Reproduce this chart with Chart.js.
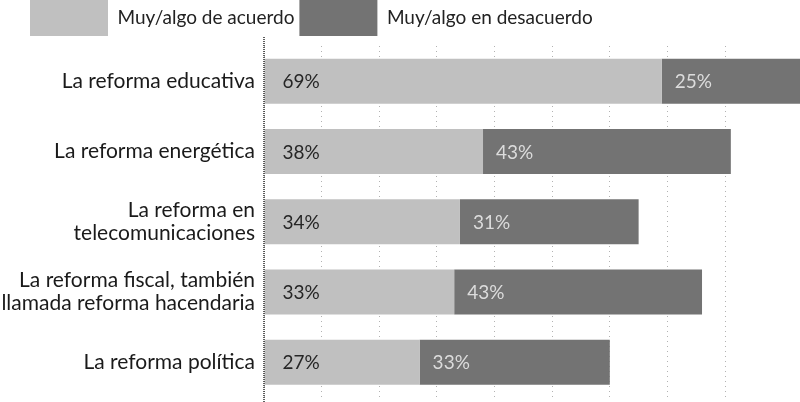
<!DOCTYPE html>
<html>
<head>
<meta charset="utf-8">
<script src="https://cdn.jsdelivr.net/npm/chart.js@4.4.1/dist/chart.umd.min.js"></script>
<style>
  html, body { margin: 0; padding: 0; background: #ffffff; overflow: hidden; }
  #wrap { position: absolute; left: 0; top: -5px; width: 800px; height: 423px; }
</style>
</head>
<body>
<div id="wrap"><canvas id="c" width="800" height="423"></canvas></div>
<script>
const categories = [
  "La reforma educativa",
  "La reforma energética",
  ["La reforma en", "telecomunicaciones"],
  ["La reforma fiscal, también", "llamada reforma hacendaria"],
  "La reforma política"
];
const seriesNames = ["Muy/algo de acuerdo", "Muy/algo en desacuerdo"];
const agree = [69, 38, 34, 33, 27];
const disagree = [25, 43, 31, 43, 33];

const lightColor = "#c0c0c0";
const darkColor = "#737373";

const barLabels = {
  id: "barLabels",
  afterDatasetsDraw(chart) {
    const ctx = chart.ctx;
    ctx.save();
    ctx.font = "19px Lato";
    ctx.textBaseline = "middle";
    ctx.textAlign = "left";
    chart.data.datasets.forEach((ds, di) => {
      const meta = chart.getDatasetMeta(di);
      ctx.fillStyle = di === 0 ? "#262626" : "#dcdcdc";
      meta.data.forEach((bar, i) => {
        const start = Math.min(bar.base, bar.x);
        ctx.fillText(ds.data[i] + "%", start + (di === 0 ? 18 : 13), bar.y + 1);
      });
    });
    ctx.restore();
  }
};

const axisLine = {
  id: "axisLine",
  afterDatasetsDraw(chart) {
    const ctx = chart.ctx;
    const a = chart.chartArea;
    const x = chart.scales.x.getPixelForValue(0);
    ctx.save();
    ctx.strokeStyle = "#2a2a2a";
    ctx.lineWidth = 1.5;
    ctx.setLineDash([1, 1]);
    ctx.beginPath();
    ctx.moveTo(x, a.top - 9);
    ctx.lineTo(x, a.bottom + 10);
    ctx.stroke();
    ctx.restore();
  }
};

const legendShift = {
  id: "legendShift",
  afterLayout(chart) {
    if (chart.legend) { chart.legend.left = 25; }
  }
};

new Chart(document.getElementById("c"), {
  type: "bar",
  data: {
    labels: categories,
    datasets: [
      { label: seriesNames[0], data: agree, backgroundColor: lightColor, borderWidth: 0 },
      { label: seriesNames[1], data: disagree, backgroundColor: darkColor, borderWidth: 0 }
    ]
  },
  options: {
    indexAxis: "y",
    responsive: false,
    animation: false,
    layout: { padding: { left: 0, right: 0, top: 0, bottom: 4 } },
    datasets: { bar: { categoryPercentage: 1, barPercentage: 0.64 } },
    plugins: {
      legend: {
        display: true,
        position: "top",
        align: "start",
        labels: {
          boxWidth: 78,
          boxHeight: 36,
          padding: 5,
          color: "#222",
          font: { family: "Lato", size: 19 }
        }
      },
      tooltip: { enabled: false }
    },
    scales: {
      x: {
        stacked: true,
        min: 0,
        max: 93,
        ticks: { display: false, stepSize: 10 },
        grid: { display: true, color: "rgba(0,0,0,0.3)", drawTicks: false },
        border: { display: false, dash: [1, 4] }
      },
      y: {
        stacked: true,
        afterFit(scale) { scale.width = 264; },
        ticks: {
          color: "#1a1a1a",
          padding: 9,
          font: { family: "Lato", size: 21, lineHeight: 1.1 }
        },
        grid: { display: false, drawTicks: false },
        border: { display: false }
      }
    }
  },
  plugins: [legendShift, barLabels, axisLine]
});
</script>
</body>
</html>
